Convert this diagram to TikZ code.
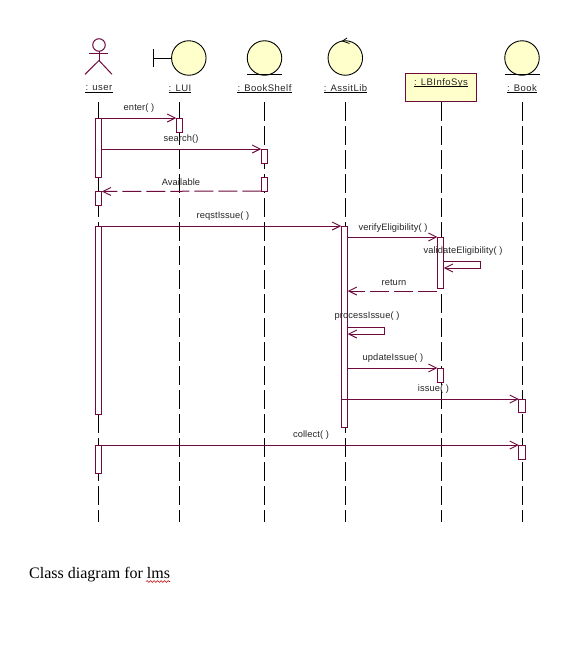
\documentclass[tikz,border=0pt]{standalone}
\usepackage{fontspec}
\setmainfont{Liberation Sans}
\newfontfamily\capfont{Liberation Serif}
\newfontfamily\umlfont[LetterSpace=5]{Liberation Sans}
\newfontfamily\msgfont[LetterSpace=1]{Liberation Sans}
\usetikzlibrary{arrows.meta,decorations.pathmorphing}
\definecolor{umlline}{HTML}{6E0A3E}
\definecolor{umlfill}{HTML}{FFFFCC}
\tikzset{
  lifeline/.style={draw=black,line width=1pt,dash pattern=on 19pt off 5pt},
  actbox/.style={draw=umlline,fill=white,line width=1pt,minimum width=6.5pt,inner sep=0pt,outer sep=0pt,anchor=north},
  msg/.style={draw=umlline,line width=1pt,-{Straight Barb[length=8pt,width=8pt,line width=0.9pt]}},
  ret/.style={msg,dash pattern=on 19pt off 5pt},
  lbl/.style={font=\fontsize{9.3pt}{11pt}\msgfont,text=black!85,inner sep=0pt},
  head/.style={font=\fontsize{9.5pt}{11pt}\umlfont,text=black!85,inner sep=0pt,text depth=0pt},
  entity/.style={circle,draw=black,line width=0.9pt,fill=umlfill,minimum size=34.5pt,inner sep=0pt,outer sep=0pt},
  stick/.style={draw=umlline,line width=1pt},
  underl/.style={draw=black,line width=0.8pt},
}
\newcommand{\actbar}[4]{\node[actbox,minimum height=#4pt-#3pt] (#1) at (#2,#3) {};}
\begin{document}
\begin{tikzpicture}[x=1pt,y=-1pt]
\useasboundingbox[fill=white] (0,0) rectangle (581,645);

% lifeline ends
\coordinate (userTop) at (98.5,102);   \coordinate (userEnd) at (98.5,522);
\coordinate (luiTop) at (179.5,102);   \coordinate (luiEnd) at (179.5,522);
\coordinate (shelfTop) at (264.5,102); \coordinate (shelfEnd) at (264.5,522);
\coordinate (libTop) at (345.5,102);   \coordinate (libEnd) at (345.5,522);
\coordinate (infoTop) at (441,102);    \coordinate (infoEnd) at (441,522);
\coordinate (bookTop) at (522,102);    \coordinate (bookEnd) at (522,522);
\foreach \n in {user,lui,shelf,lib,info,book}
  \draw[lifeline] (\n Top) -- (\n End);

% actor
\node[circle,draw=umlline,line width=1pt,minimum size=12.5pt,inner sep=0pt,outer sep=0pt] (actorHead) at (99,45) {};
\coordinate (actorHip) at (99,60.5);
\coordinate (armL) at (89,53.3); \coordinate (armR) at (108,53.3);
\coordinate (legL) at (85,74.3); \coordinate (legR) at (112,74.3);
\draw[stick] (actorHead.south) -- (actorHip);
\draw[stick] (armL) -- (armR);
\draw[stick] (legL) -- (actorHip) -- (legR);

% boundary
\node[entity] (luiCircle) at (188.8,58) {};
\coordinate (barTop) at (153.5,49.3); \coordinate (barBot) at (153.5,66.7);
\coordinate (barMid) at (153.5,58);
\draw[draw=black,line width=0.9pt] (barTop) -- (barBot);
\draw[draw=black,line width=0.9pt] (barMid) -- (luiCircle.west);

% entities
\node[entity] (shelfCircle) at (264.5,58) {};
\draw[underl] (247,74) -- (282,74);
\node[entity] (libCircle) at (345.3,58) {};
\coordinate (libTip) at (342.5,41);
\draw[draw=black,line width=0.8pt] (347,38) -- (libTip) -- (349.5,43.5);
\node[entity] (bookCircle) at (522,58) {};
\draw[underl] (505,74) -- (539.5,74);

% class box
\node[draw=umlline,fill=umlfill,line width=1pt,minimum width=71.5pt,minimum height=28.5pt,inner sep=0pt,outer sep=0pt] (infoBox) at (441,87.5) {};

% head labels
\node[head] (userL) at (99,88) {: user};
\node[head] (luiL) at (180,88) {: LUI};
\node[head] (shelfL) at (264.5,88) {: BookShelf};
\node[head] (libL) at (345.5,88) {: AssitLib};
\node[head] (infoL) at (441,82) {: LBInfoSys};
\node[head] (bookL) at (522,88) {: Book};
\foreach \n in {userL,luiL,shelfL,libL,infoL,bookL}
  \draw[underl] ([yshift=-1.2pt]\n.south west) -- ([yshift=-1.2pt]\n.south east);

% activations
\actbar{u1}{98.7}{118}{177}
\actbar{u2}{98.7}{191.5}{205}
\actbar{u3}{98.7}{226}{414}
\actbar{u4}{98.7}{445}{473}
\actbar{l1}{179.5}{118}{132}
\actbar{s1}{264.5}{149}{163}
\actbar{s2}{264.5}{177}{191}
\actbar{a1}{344.5}{226}{427}
\actbar{i1}{440.7}{237}{288}
\actbar{i2}{440.7}{368}{382}
\actbar{b1}{522}{399}{412}
\actbar{b2}{522}{445}{459}

% messages
\draw[msg] (u1.north east) -- (l1.north west);
\draw[msg] (u1.east |- s1.north) -- (s1.north west);
\draw[ret] (s2.south west) -- (u2.north east);
\draw[msg] (u3.north east) -- (a1.north west);
\draw[msg] (a1.east |- i1.north) -- (i1.north west);
\coordinate (vOut) at (i1.east |- 0,261);
\coordinate (vIn) at (i1.east |- 0,268);
\draw[msg] (vOut) -- ++(37,0) -- ++(0,7) -- (vIn);
\coordinate (retOut) at (i1.west |- 0,291);
\draw[ret] (retOut) -- (a1.east |- retOut);
\coordinate (pOut) at (a1.east |- 0,327);
\coordinate (pIn) at (a1.east |- 0,334);
\draw[msg] (pOut) -- ++(37,0) -- ++(0,7) -- (pIn);
\draw[msg] (a1.east |- i2.north) -- (i2.north west);
\draw[msg] (a1.west |- b1.north) -- (b1.north west);
\draw[msg] (u4.north east) -- (b2.north west);

% message labels
\node[lbl] (mEnter) at (139,108.5) {enter( )};
\node[lbl] (mSearch) at (181,139.5) {search()};
\node[lbl] (mAvail) at (181,182.5) {Available};
\node[lbl] (mReqst) at (223,216.5) {reqstIssue( )};
\node[lbl] (mVerify) at (393,228.5) {verifyEligibility( )};
\node[lbl] (mValid) at (463,251.5) {validateEligibility( )};
\node[lbl] (mReturn) at (394,282.5) {return};
\node[lbl] (mProc) at (367,316.5) {processIssue( )};
\node[lbl] (mUpd) at (393,358.5) {updateIssue( )};
\node[lbl] (mIssue) at (433.5,389.5) {issue( )};
\node[lbl] (mCollect) at (311,435.5) {collect( )};

% caption
\node[anchor=base west,inner sep=0pt,font=\fontsize{16pt}{18pt}\capfont,text=black] (caption) at (29,578) {Class diagram for lms};
\coordinate (wavyA) at (146,581.5); \coordinate (wavyB) at (170,581.5);
\draw[red!75!black,line width=0.6pt,decorate,decoration={snake,amplitude=0.9pt,segment length=3.5pt}] (wavyA) -- (wavyB);
\end{tikzpicture}
\end{document}
